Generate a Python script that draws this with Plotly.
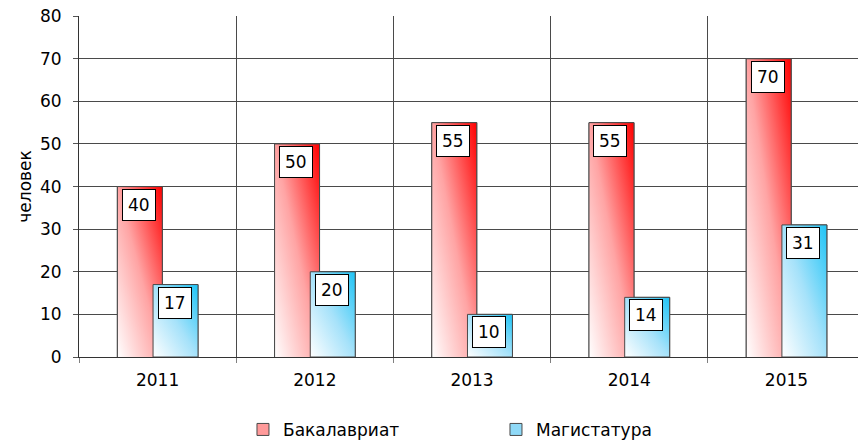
import base64
import plotly.graph_objects as go

years = ["2011", "2012", "2013", "2014", "2015"]
bachelor = [40, 50, 55, 55, 70]
master = [17, 20, 10, 14, 31]
series_names = ["Бакалавриат", "Магистатура"]
y_title = "человек"

FONT = "DejaVu Sans"
BAR_W = 0.286
OFFSETS = [-0.256, -0.029]
LINE = "#4a4a4a"

def grad_svg(c_mid, c_end):
    svg = (
        '<svg xmlns="http://www.w3.org/2000/svg" width="100" height="100" viewBox="0 0 100 100" preserveAspectRatio="none">'
        '<defs><linearGradient id="g" x1="0" y1="1" x2="1" y2="0">'
        '<stop offset="0" stop-color="#ffffff"/>'
        f'<stop offset="0.5" stop-color="{c_mid}"/>'
        f'<stop offset="1" stop-color="{c_end}"/>'
        '</linearGradient></defs>'
        '<rect x="0" y="0" width="100" height="100" fill="url(#g)"/></svg>'
    )
    return "data:image/svg+xml;base64," + base64.b64encode(svg.encode()).decode()

red_src = grad_svg("#ffa4a4", "#ff0000")
blue_src = grad_svg("#a6e2fa", "#1ec4f6")

xs = list(range(len(years)))
fig = go.Figure()
fig.add_trace(go.Bar(x=xs, y=bachelor, name=series_names[0], width=BAR_W, offset=OFFSETS[0],
                     marker=dict(color="#ff9a9a", line=dict(color=LINE, width=1)), hoverinfo="y"))
fig.add_trace(go.Bar(x=xs, y=master, name=series_names[1], width=BAR_W, offset=OFFSETS[1],
                     marker=dict(color="#8fd9f7", line=dict(color=LINE, width=1)), hoverinfo="y"))

images = []
shapes = []
annotations = []
for vals, off, src in [(bachelor, OFFSETS[0], red_src), (master, OFFSETS[1], blue_src)]:
    for i, v in enumerate(vals):
        images.append(dict(source=src, xref="x", yref="y", x=i + off, y=v, sizex=BAR_W, sizey=v,
                           xanchor="left", yanchor="top", sizing="stretch", layer="above"))

# outlines: red bars partially hidden behind blue bars
for i, (vb, vm) in enumerate(zip(bachelor, master)):
    x0 = i + OFFSETS[0]
    x1 = x0 + BAR_W
    bx0 = i + OFFSETS[1]
    bx1 = bx0 + BAR_W
    shapes.append(dict(type="path", xref="x", yref="y", layer="above",
                       path=f"M {x0},0 L {x0},{vb} L {x1},{vb} L {x1},{min(vm, vb)}",
                       line=dict(color=LINE, width=1)))
    shapes.append(dict(type="rect", xref="x", yref="y", layer="above",
                       x0=bx0, x1=bx1, y0=0, y1=vm, line=dict(color=LINE, width=1)))

for vals, off in [(bachelor, OFFSETS[0]), (master, OFFSETS[1])]:
    for i, v in enumerate(vals):
        annotations.append(dict(x=i + off + BAR_W / 2, y=v, xref="x", yref="y", text=str(v),
                                showarrow=False, yanchor="top", yshift=-2, xshift=-1,
                                bgcolor="white", bordercolor="#000000", borderwidth=1, borderpad=5,
                                font=dict(family=FONT, size=17, color="#000000")))

fig.update_layout(
    width=858, height=440,
    margin=dict(l=79, r=0, t=16, b=83, autoexpand=False),
    paper_bgcolor="white", plot_bgcolor="white",
    barmode="overlay",
    font=dict(family=FONT, size=17, color="#000000"),
    images=images, shapes=shapes, annotations=annotations,
    showlegend=True,
    legend=dict(orientation="h", x=0.2105, xanchor="left", y=-0.161, yanchor="top",
                font=dict(family=FONT, size=17), entrywidth=208, entrywidthmode="pixels",
                itemclick=False),
    xaxis=dict(range=[-0.5, 4.455], tickmode="array", tickvals=xs, ticktext=years,
               ticks="", showgrid=False, zeroline=False, showline=True, linecolor="#333333",
               ticklabelstandoff=8, fixedrange=True, automargin=False,
               tickfont=dict(size=17),
               minor=dict(tickmode="linear", tick0=0.5, dtick=1, ticks="outside", ticklen=5,
                          tickcolor="#808080", showgrid=True, gridcolor=LINE, gridwidth=1)),
    yaxis=dict(range=[0, 80.03], tickmode="linear", tick0=0, dtick=10, ticks="outside", ticklen=5,
               tickcolor="#555555", ticklabeloverflow="allow",
               showgrid=True, gridcolor=LINE, gridwidth=1, zeroline=False, showline=True,
               linecolor="#333333", ticklabelstandoff=8, fixedrange=True, automargin=False,
               tickfont=dict(size=17),
               title=dict(text=y_title, font=dict(family=FONT, size=17), standoff=4)),
)

# remove the default 8px page margin so the figure fills the window exactly
fig.write_html("out.html", config={"displayModeBar": False},
               post_script="document.body.style.margin='0';")
